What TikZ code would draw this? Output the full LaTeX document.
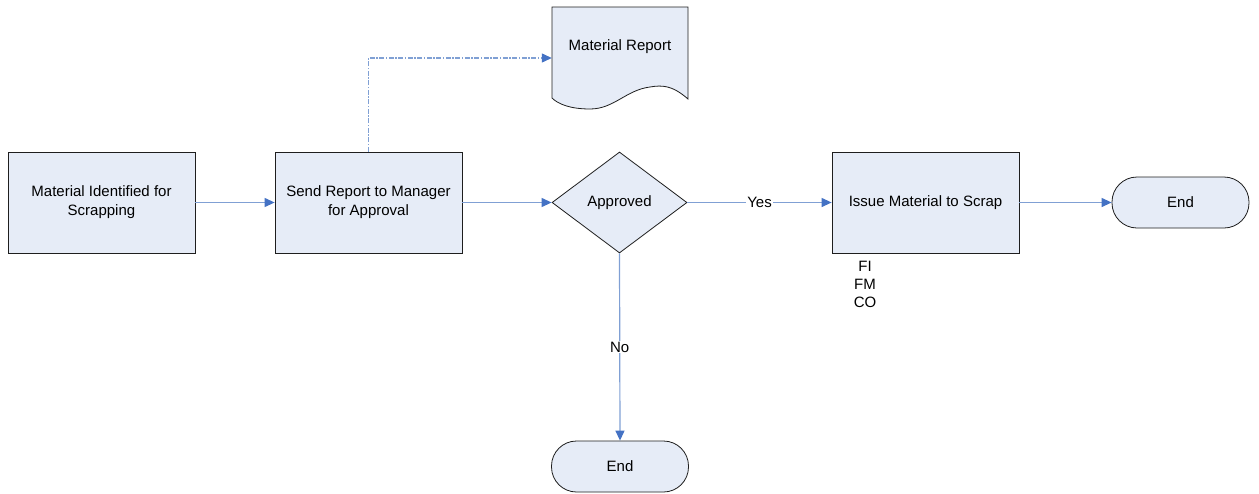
\documentclass[tikz,border=0pt]{standalone}
\usepackage{fontspec}
\setmainfont{Liberation Sans}
\usetikzlibrary{arrows.meta,shapes.geometric}
\definecolor{boxfill}{RGB}{230,236,247}
\definecolor{linkline}{RGB}{128,160,212}
\definecolor{linktip}{RGB}{68,114,196}
\definecolor{edge}{RGB}{30,30,30}
\begin{document}
\begin{tikzpicture}[x=1pt,y=-1pt,
  every node/.style={font=\fontsize{15}{19}\selectfont},
  procbox/.style={draw=edge,line width=0.8pt,fill=boxfill,minimum width=187pt,minimum height=101pt,align=center,inner sep=0pt},
  terminal/.style={draw=edge,line width=0.8pt,fill=boxfill,rounded corners=25pt,minimum width=137pt,minimum height=51pt,inner sep=0pt},
  decision/.style={draw=edge,line width=0.8pt,fill=boxfill,diamond,minimum width=135pt,minimum height=101pt,inner sep=0pt},
  link/.style={draw=linkline,line width=1.2pt,-{Triangle[length=10pt,width=9pt,fill=linktip,color=linktip]}},
  dotlink/.style={link,dash pattern=on 5pt off 1.5pt on 1.5pt off 1.5pt},
  tag/.style={fill=white,inner sep=1pt}]
\useasboundingbox (0,0) rectangle (1259,493);

% process steps
\node[procbox] (ident) at (101.5,202.5) {Material Identified for\\Scrapping};
\node[procbox] (send) at (368.5,202.5) {Send Report to Manager\\for Approval};
\node[decision] (appr) at (619.5,202.5) {};
\node at (appr.center) {Approved};
\node[procbox] (issue) at (925.5,202.5) {Issue Material to Scrap};
\node[terminal] (endA) at (1180.5,202.5) {End};
\node[terminal] (endB) at (620,466.5) {End};

% document with wavy bottom edge
\node[minimum width=136pt,minimum height=102pt,inner sep=0pt] (doc) at (620,58) {};
\draw[edge,line width=0.8pt,fill=boxfill]
  (552,7) -- (688,7) -- (688,99)
  .. controls (672,85) and (662,85) .. (650,87)
  .. controls (626,90) and (614,109) .. (590,109)
  .. controls (570,109) and (558,104) .. (552,98) -- cycle;
\node at (620,47) {Material Report};

% modules under the scrap step
\node[align=center,font=\fontsize{15}{18}\selectfont,anchor=north] (mods) at (865,258) {FI\\FM\\CO};

% connectors
\draw[link] (ident.east) -- (send.west);
\draw[link] (send.east) -- (appr.west);
\draw[link] (appr.east) -- node[tag] {Yes} (issue.west);
\draw[link] (issue.east) -- (endA.west);
\draw[link] (appr.south) -- node[tag,pos=0.5] {No} (endB.north);
\draw[dotlink] (send.north) |- (doc.west);
\end{tikzpicture}
\end{document}
